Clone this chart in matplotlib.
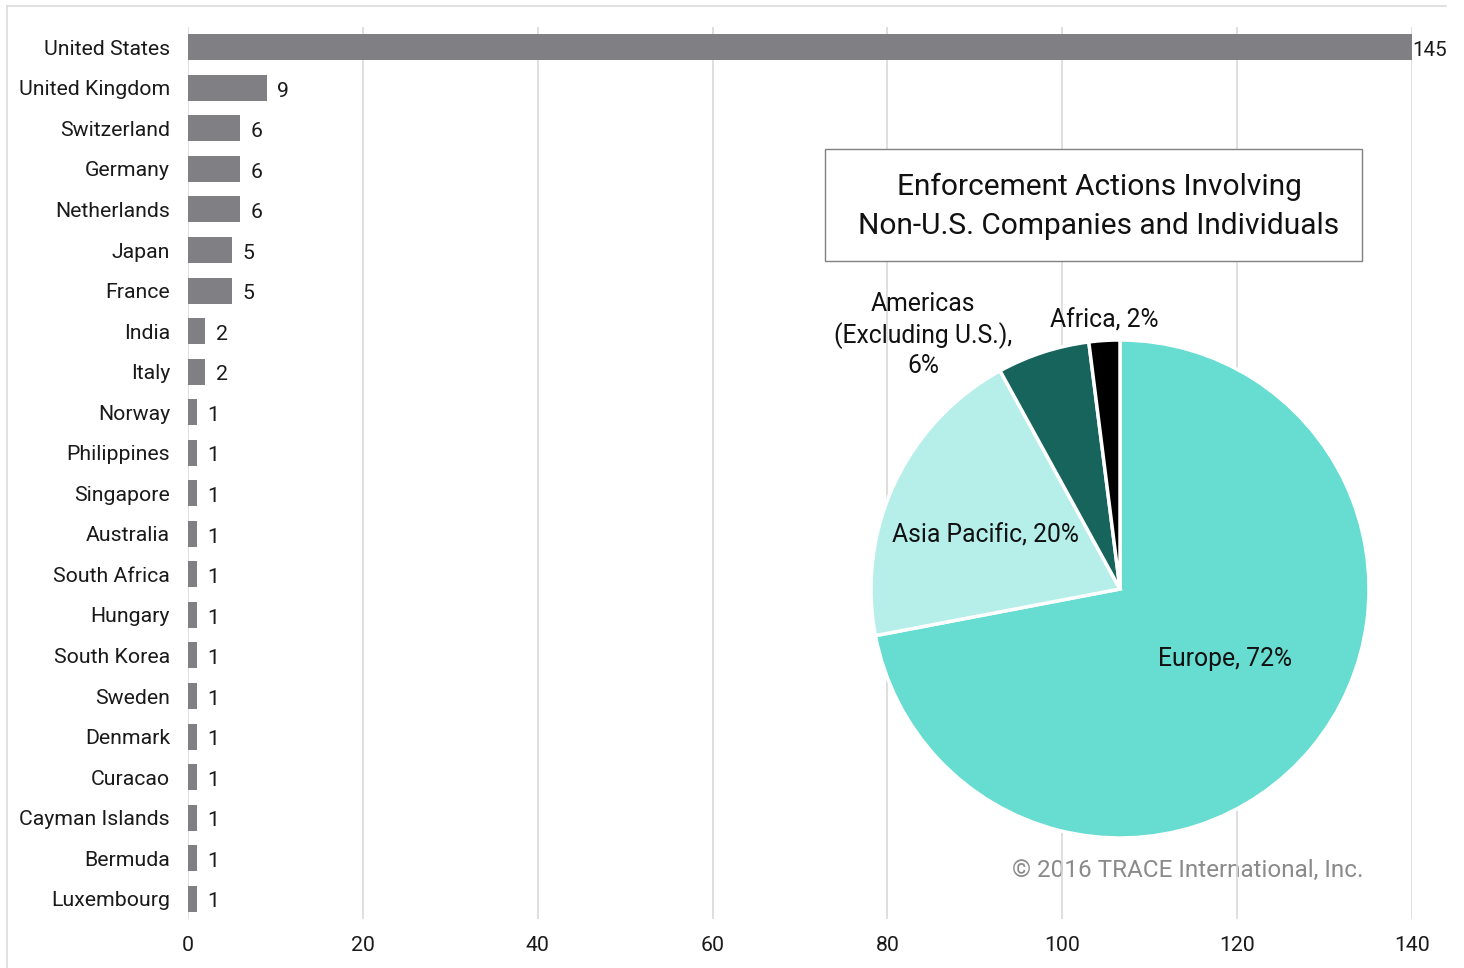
import matplotlib
matplotlib.use("Agg")
import matplotlib.pyplot as plt
from matplotlib.patches import Rectangle
from matplotlib.lines import Line2D

plt.rcParams['font.family'] = ['Roboto', 'DejaVu Sans']

# enforcement actions by country
countries = ["United States", "United Kingdom", "Switzerland", "Germany", "Netherlands",
             "Japan", "France", "India", "Italy", "Norway", "Philippines", "Singapore",
             "Australia", "South Africa", "Hungary", "South Korea", "Sweden", "Denmark",
             "Curacao", "Cayman Islands", "Bermuda", "Luxembourg"]
actions = [145, 9, 6, 6, 6, 5, 5, 2, 2, 1, 1, 1, 1, 1, 1, 1, 1, 1, 1, 1, 1, 1]
x_ticks = [0, 20, 40, 60, 80, 100, 120, 140]

# regional share of non-U.S. actions
regions = ["Europe", "Asia Pacific", "Americas\n(Excluding U.S.),\n", "Africa"]
shares = [72, 20, 6, 2]
region_colors = ["#66ddd0", "#b6efe9", "#17645d", "#000000"]

W, H = 1464, 968
fig = plt.figure(figsize=(W / 100, H / 100), dpi=100)

def fx(px):
    return px / W

def fy(py):
    return 1 - py / H

# light frame on the left and top
fig.add_artist(Line2D([fx(7), fx(7)], [fy(6), 0], color="#dcdcdc", lw=1.2))
fig.add_artist(Line2D([fx(7), fx(1446)], [fy(6), fy(6)], color="#dcdcdc", lw=1.2))

ax = fig.add_axes([fx(188), fy(919), fx(1412) - fx(188), fy(27) - fy(919)])
xmax = x_ticks[-1]
ypos = list(range(len(countries)))
ax.barh(ypos, [min(v, xmax) for v in actions], height=0.64, color="#7f7f84", zorder=2)
ax.set_xlim(0, xmax)
ax.set_ylim(len(countries) - 0.5, -0.5)
ax.set_yticks(ypos)
ax.set_yticklabels(countries)
ax.set_xticks(x_ticks)
ax.tick_params(axis="y", length=0, pad=13, labelsize=15.3, labelcolor="#1a1a1a")
ax.tick_params(axis="x", length=0, pad=12, labelsize=15.3, labelcolor="#1a1a1a")
ax.grid(axis="x", color="#d9d9d9", lw=1.2, zorder=1)
for s in ax.spines.values():
    s.set_visible(False)

for y, v in zip(ypos, actions):
    if v > xmax:
        ax.text(xmax, y + 0.08, f"{v}", va="center", ha="left", fontsize=14.8,
                color="#1a1a1a", clip_on=False)
    else:
        ax.text(v + 1.2, y + 0.08, str(v), va="center", ha="left", fontsize=15.3,
                color="#1a1a1a")

# copyright note sits under the gridlines
ax.text(1363, H - 870, "© 2016 TRACE International, Inc.", transform=None,
        ha="right", va="center", fontsize=17.5, color="#8a8a8a", zorder=0)

# title box for the pie
fig.add_artist(Rectangle((fx(825), fy(261)), fx(1362) - fx(825), fy(149) - fy(261),
                         facecolor="white", edgecolor="#808080", lw=1, zorder=3))
fig.text(fx(1099), fy(206), "Enforcement Actions Involving\nNon-U.S. Companies and Individuals",
         ha="center", va="center", fontsize=21.5, color="#111111", linespacing=1.5, zorder=4)

r = 249
pax = fig.add_axes([fx(1120 - r), fy(589 + r), fx(2 * r), (2 * r) / H])
pax.pie(shares, colors=region_colors, startangle=90, counterclock=False,
        wedgeprops=dict(edgecolor="white", linewidth=2.5))
pax.set_xlim(-1, 1)
pax.set_ylim(-1, 1)
pax.set_aspect("equal")
pax.axis("off")

label_pos = [(0.42, -0.28), (-0.54, 0.215), (-0.79, 1.02), (-0.065, 1.08)]
for name, sh, (lx, ly) in zip(regions, shares, label_pos):
    txt = f"{name}{sh}%" if name.endswith("\n") else f"{name}, {sh}%"
    pax.text(lx, ly, txt, ha="center", va="center", fontsize=17.8, color="#111111",
             linespacing=1.3, clip_on=False)

fig.savefig("out.png", dpi=100, facecolor="white")
